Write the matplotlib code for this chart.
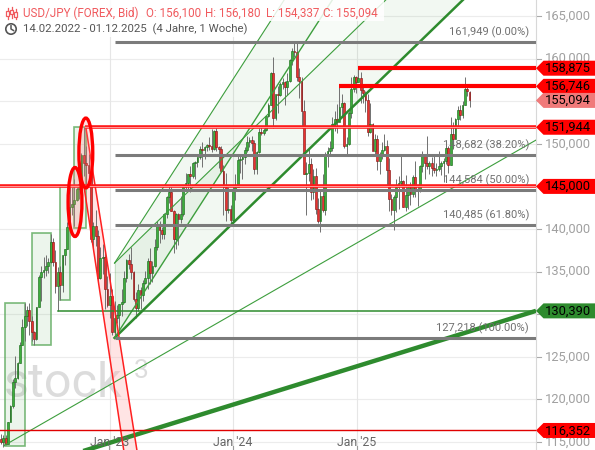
import matplotlib
matplotlib.use('Agg')
import matplotlib.pyplot as plt
import matplotlib.dates as mdates
import numpy as np
import pandas as pd
from matplotlib.patches import Rectangle, Ellipse, Polygon, Circle

plt.rcParams['font.family'] = ['Roboto', 'DejaVu Sans']

# ---------------- data: weekly USD/JPY candles ----------------
opens = [115.4,115.0,115.5,114.8,117.3,119.2,122.0,122.5,124.3,126.4,128.5,129.8,130.5,129.2,127.9,127.1,130.8,134.4,135.0,135.2,135.7,136.1,138.5,136.1,133.3,135.0,133.4,136.9,137.6,140.2,142.6,142.9,143.4,144.7,145.3,148.7,147.7,147.5,146.6,138.8,140.4,139.2,134.3,136.6,136.7,132.9,
         131.1,132.1,127.9,129.6,129.9,131.2,131.4,134.2,136.4,135.9,134.9,131.8,130.7,132.8,132.2,133.7,134.2,136.3,134.8,135.7,137.9,140.6,139.9,139.4,141.8,143.7,144.3,142.1,138.8,141.8,141.2,141.8,144.9,145.4,146.4,146.2,147.8,147.9,148.4,149.4,149.3,149.6,149.9,149.7,149.4,151.5,149.6,149.4,146.8,144.9,142.2,142.4,
         141.0,144.6,144.9,148.1,148.2,148.4,149.3,150.2,150.5,150.1,147.1,149.0,151.4,151.3,151.6,153.3,154.6,158.3,153.0,155.8,155.7,157.0,157.3,156.7,157.4,159.8,160.9,160.8,157.9,157.4,153.8,146.5,146.6,147.6,144.4,146.2,142.3,140.9,143.9,142.2,148.7,149.1,149.5,152.3,152.9,152.6,154.3,154.8,149.8,150.0,153.6,156.4,
         157.9,157.3,157.7,156.3,156.0,155.2,151.4,152.3,149.2,150.6,148.0,148.6,149.3,149.8,146.9,143.5,142.2,143.7,144.9,145.4,145.6,142.6,144.0,144.9,144.1,146.1,144.6,144.5,147.4,148.6,147.7,147.4,147.7,147.2,146.9,147.1,147.4,147.7,148.0,149.5,147.5,151.2,150.6,152.9,154.0,153.4,154.6,156.4,156.1]
highs = [115.9,115.8,115.8,117.4,119.4,122.4,125.1,124.4,126.7,129.4,131.3,131.0,131.3,129.8,128.0,130.9,134.6,135.6,136.7,137.0,136.6,139.4,138.9,137.5,135.5,135.6,137.0,137.7,140.8,145.0,144.9,145.9,144.9,145.4,148.9,151.94,149.7,148.8,147.0,140.8,142.2,139.9,137.9,138.2,137.5,134.5,
         134.8,132.9,131.6,131.1,131.2,132.9,135.1,136.5,137.1,137.9,135.1,132.6,133.6,133.2,134.0,135.1,136.6,137.8,136.3,138.8,140.9,140.9,140.2,141.9,143.9,145.1,144.9,142.2,141.9,141.9,143.9,145.0,146.6,146.4,147.4,147.9,148.0,148.5,149.7,150.2,149.8,150.0,150.8,151.7,151.6,151.9,149.8,149.7,147.5,146.6,144.9,142.8,
         145.0,146.4,148.8,148.7,148.6,149.6,150.9,150.8,150.9,150.5,149.2,151.9,152.0,151.8,153.3,154.8,158.4,160.2,155.9,156.8,157.2,157.7,157.4,158.3,159.9,161.3,161.95,161.8,158.9,157.9,155.2,147.9,149.4,148.3,147.0,147.2,143.6,144.5,146.5,149.0,149.6,150.3,153.2,153.9,154.7,156.75,155.9,154.9,150.8,153.9,157.9,158.1,
         158.0,158.88,158.4,156.7,156.2,155.9,154.8,152.4,151.2,151.0,149.0,150.2,151.2,150.5,148.3,144.1,144.0,145.9,146.2,148.65,145.8,146.3,145.1,145.5,146.3,148.0,145.0,147.5,149.2,148.8,150.9,148.0,148.5,148.8,147.8,149.1,148.0,148.3,149.9,149.8,153.2,152.6,153.0,154.4,154.5,155.0,157.9,156.9,156.18]
lows = [114.8,114.4,114.7,114.8,117.3,119.0,121.3,122.4,124.3,126.4,126.9,128.6,127.5,126.9,126.4,127.0,130.8,131.5,134.3,134.5,134.8,136.0,135.6,132.5,130.4,131.7,132.6,135.8,137.6,140.2,141.7,140.3,143.3,143.5,145.3,146.2,145.1,145.7,138.5,137.7,138.0,133.6,134.1,134.7,130.6,130.8,
        129.5,127.5,127.22,129.0,128.1,129.8,131.3,133.8,135.3,134.1,131.6,129.6,130.4,130.6,131.6,133.5,133.0,133.5,133.8,135.5,137.5,138.4,138.8,138.8,141.3,143.0,142.1,137.2,137.7,138.1,140.7,141.5,144.5,144.6,144.4,146.0,145.9,147.3,148.2,147.3,148.2,149.2,149.3,149.0,149.3,149.2,147.2,146.7,141.7,140.9,141.9,140.3,
        140.8,143.4,144.9,146.6,145.9,147.6,149.0,149.6,149.2,146.5,146.5,148.9,151.0,151.0,151.5,153.2,154.5,151.9,152.8,153.6,155.6,156.4,154.5,155.7,157.2,159.3,160.2,157.4,155.4,151.9,146.4,141.7,145.6,143.4,143.5,141.8,140.7,139.6,142.0,141.6,147.3,148.8,149.1,151.5,151.3,152.6,153.3,149.5,148.6,149.9,153.0,156.1,
        156.0,157.2,154.8,154.8,153.7,150.9,151.3,149.1,148.6,146.9,146.5,148.2,149.2,145.2,142.1,141.6,139.9,142.0,142.4,144.9,142.6,142.1,142.4,142.8,143.7,143.8,142.7,144.3,146.7,145.9,147.0,146.4,146.2,146.6,146.2,146.8,146.3,145.5,147.6,146.6,147.5,149.4,150.6,151.8,152.8,153.0,154.5,155.6,154.337]
closes = [115.0,115.5,114.8,117.3,119.2,122.0,122.5,124.3,126.4,128.5,129.8,130.5,129.2,127.9,127.1,130.8,134.4,135.0,135.2,135.7,136.1,138.5,136.1,133.3,135.0,133.4,136.9,137.6,140.2,142.6,142.9,143.4,144.7,145.3,148.7,147.7,147.5,146.6,138.8,140.4,139.2,134.3,136.6,136.7,132.9,131.1,
          132.1,127.9,129.6,129.9,131.2,131.4,134.2,136.4,135.9,134.9,131.8,130.7,132.8,132.2,133.7,134.2,136.3,134.8,135.7,137.9,140.6,139.9,139.4,141.8,143.7,144.3,142.1,138.8,141.8,141.2,141.8,144.9,145.4,146.4,146.2,147.8,147.9,148.4,149.4,149.3,149.6,149.9,149.7,149.4,151.5,149.6,149.4,146.8,144.9,142.2,142.4,141.0,
          144.6,144.9,148.1,148.2,148.4,149.3,150.2,150.5,150.1,147.1,149.0,151.4,151.3,151.6,153.3,154.6,158.3,153.0,155.8,155.7,157.0,157.3,156.7,157.4,159.8,160.9,160.8,157.9,157.4,153.8,146.5,146.6,147.6,144.4,146.2,142.3,140.9,143.9,142.2,148.7,149.1,149.5,152.3,152.9,152.6,154.3,154.8,149.8,150.0,153.6,156.4,157.9,
          157.3,157.7,156.3,156.0,155.2,151.4,152.3,149.2,150.6,148.0,148.6,149.3,149.8,146.9,143.5,142.2,143.7,144.9,145.4,145.6,142.6,144.0,144.9,144.1,146.1,144.6,144.5,147.4,148.6,147.7,147.4,147.7,147.2,146.9,147.1,147.4,147.7,148.0,149.5,147.5,151.2,150.6,152.9,154.0,153.4,154.6,156.4,156.2,155.094]
first_week = '2022-02-14'

# drawing objects
fib_levels = [161.949, 148.682, 144.584, 140.485, 127.218]
fib_pcts = ['0.00%', '38.20%', '50.00%', '61.80%', '100.00%']
fib_start = '2023-01-16'
red_levels = [158.875, 156.746, 151.944, 145.0, 116.352]
red_starts = ['2025-01-06', '2024-11-11', '2022-10-21', None, None]
tag_values = [158.875, 156.746, 155.094, 151.944, 145.0, 130.39, 116.352]
tag_colors = ['#ff0000', '#ff0000', '#f07a7a', '#ff0000', '#ff0000', '#2e8b2e', '#ff0000']
green_hline = ('2022-08-02', 130.39)
boxes = [('2022-02-25', '2022-04-26', 114.5, 131.3),
         ('2022-05-16', '2022-07-11', 126.4, 139.5),
         ('2022-08-08', '2022-09-06', 131.7, 145.0),
         ('2022-09-18', '2022-10-23', 140.1, 152.0)]
ellipses = [('2022-09-21', 143.17, 41, 8.1), ('2022-10-23', 148.92, 41, 8.2)]
red_channel = [(('2022-10-17', 145.16), ('2023-02-12', 114.06)),
               (('2022-10-23', 151.97), ('2023-03-23', 114.06))]
long_thin = (('2022-02-24', 114.6), ('2025-05-10', 141.29))
thick_trend = (('2022-10-25', 114.06), ('2026-06-15', 130.39))
chan_start, chan_low, chan_high = '2023-01-16', 127.22, 136.0
chanB_end = ('2025-11-11', 166.88)
chanA_end = ('2024-10-21', 166.88)
yticks = [115, 120, 125, 130, 135, 140, 145, 150, 155, 160, 165]
xtick_dates = ['2023-01-01', '2024-01-01', '2025-01-01']
xtick_labels = ["Jan '23", "Jan '24", "Jan '25"]

# ---------------- figure ----------------
W, H = 595, 450
fig = plt.figure(figsize=(W / 100, H / 100), dpi=100)
AXW = 536
ax = fig.add_axes([0, 0, AXW / W, 1])
DPX = 365.25 / 123.5
d = mdates.datestr2num
X0 = d('2023-01-01') - 109.5 * DPX
X1 = X0 + AXW * DPX
YB, YT = 114.06, 166.88
ax.set_xlim(X0, X1)
ax.set_ylim(YB, YT)
for s in ['top', 'left', 'bottom']:
    ax.spines[s].set_visible(False)
ax.spines['right'].set_color('#d8d8d8')
ax.set_xticks([])
ax.set_yticks([])
for v in yticks:
    ax.axhline(v, color='#ececec', lw=0.8, zorder=0)
for t in xtick_dates:
    ax.axvline(d(t), color='#e6e6e6', lw=0.8, zorder=0)

ov = fig.add_axes([0, 0, 1, 1])
ov.set_xlim(0, W)
ov.set_ylim(H, 0)
ov.axis('off')
ov.patch.set_alpha(0)
ov.set_zorder(5)

def vpx(v):
    return (YT - v) / (YT - YB) * H

# watermark
ax.text(4, 397, 'stock', transform=ov.transData, fontsize=35, color='#d4d4d4',
        alpha=0.8, zorder=0.5, va='baseline', ha='left', clip_on=False)
ax.text(134, 378, '3', transform=ov.transData, fontsize=19, color='#d4d4d4',
        alpha=0.8, zorder=0.5, va='baseline', ha='left', clip_on=False)

# boxes
for a, b, lo, hi in boxes:
    ax.add_patch(Rectangle((d(a), lo), d(b) - d(a), hi - lo, facecolor='#4a9e4a', alpha=0.1,
                           edgecolor='none', zorder=1))
    ax.add_patch(Rectangle((d(a), lo), d(b) - d(a), hi - lo, facecolor='none',
                           edgecolor='#5aa85a', lw=1.2, alpha=0.8, zorder=1.2))

# green channels
xs_ch = np.linspace(d(chan_start), X1, 200)
def lin(p_x, p_v, q_x, q_v, x):
    return p_v + (q_v - p_v) / (q_x - p_x) * (x - p_x)
sB = (chanB_end[1] - chan_low) / (d(chanB_end[0]) - d(chan_start))
sA = (chanA_end[1] - chan_low) / (d(chanA_end[0]) - d(chan_start))
x_rel = xs_ch - d(chan_start)
Bl, Bu = chan_low + sB * x_rel, chan_high + sB * x_rel
Al, Au = chan_low + sA * x_rel, chan_high + sA * x_rel
ax.fill_between(xs_ch, Bl, Bu, color='#4a9e4a', alpha=0.07, lw=0, zorder=1)
ax.fill_between(xs_ch, Al, Au, color='#4a9e4a', alpha=0.07, lw=0, zorder=1)
ax.fill_between(xs_ch, Bu, Al, where=Al > Bu, color='#4a9e4a', alpha=0.04, lw=0, zorder=1)
ax.plot(xs_ch, Bl, color='#2e8b2e', lw=1.8, zorder=4)
ax.plot(xs_ch, Bu, color='#3d9e3d', lw=0.8, zorder=4)
ax.plot(xs_ch, Al, color='#3d9e3d', lw=1.0, zorder=4)
ax.plot(xs_ch, Au, color='#3d9e3d', lw=0.8, zorder=4)
ax.plot([d(chan_start)] * 2, [chan_low, chan_high], color='#4a9e4a', lw=0.5, alpha=0.3, zorder=1)

# long thin line and thick trend line
(p1, p2) = long_thin
xx = np.array([d(p1[0]), X1])
ax.plot(xx, lin(d(p1[0]), p1[1], d(p2[0]), p2[1], xx), color='#3d9e3d', lw=0.8, zorder=4)
(p1, p2) = thick_trend
xx = np.array([d(p1[0]) - 30, X1])
ax.plot(xx, lin(d(p1[0]), p1[1], d(p2[0]), p2[1], xx), color='#2e8b2e', lw=3.2, zorder=4,
        solid_capstyle='butt')
ax.plot([d(green_hline[0]), X1], [green_hline[1]] * 2, color='#2e8b2e', lw=1.1, zorder=4)

# red descending channel
(a1, a2), (b1, b2) = red_channel
ya = np.array([a1[1], 112.0]); yb = np.array([b1[1], 112.0])
xa = np.array([d(a1[0]), lin(a1[1], d(a1[0]), a2[1], d(a2[0]), 112.0)])
xb = np.array([d(b1[0]), lin(b1[1], d(b1[0]), b2[1], d(b2[0]), 112.0)])
ax.add_patch(Polygon([(xa[0], ya[0]), (xb[0], yb[0]), (xb[1], yb[1]), (xa[1], ya[1])],
                     closed=True, facecolor='#ffb3b3', alpha=0.35, edgecolor='none', zorder=1))
ax.plot(xa, ya, color='#ff2020', lw=1.1, zorder=4)
ax.plot(xb, yb, color='#ff2020', lw=1.1, zorder=4)

# candles
dates = pd.date_range(first_week, periods=len(closes), freq='7D')
xs = mdates.date2num(dates)
o = np.array(opens); c = np.array(closes)
h = np.maximum(np.array(highs), np.maximum(o, c))
l = np.minimum(np.array(lows), np.minimum(o, c))
up = c >= o
ax.vlines(xs, l, h, color='#707070', lw=0.7, zorder=2.5)
ax.bar(xs, np.maximum(np.abs(c - o), 0.1), bottom=np.minimum(o, c), width=5.2,
       color=np.where(up, '#3cae3c', '#e8322f'), edgecolor=np.where(up, '#1f6f1f', '#8a1a1a'),
       linewidth=0.45, zorder=3)

# fib lines
for v, p in zip(fib_levels, fib_pcts):
    ax.plot([d(fib_start), X1], [v, v], color='#7b7b7b', lw=2.2, zorder=4, solid_capstyle='butt')
    ov.text(529, vpx(v) - 10, f"{v:.3f}".replace('.', ',') + f" ({p})", fontsize=8,
            color='#707070', ha='right', va='center', zorder=6)

# red lines
for v, s in zip(red_levels, red_starts):
    xa0 = d(s) if s else X0
    if v == 116.352:
        ax.plot([xa0, X1], [v, v], color='#e00000', lw=1.0, zorder=4)
    elif v in (158.875, 156.746):
        ax.plot([xa0, X1], [v, v], color='#ff0000', lw=3.0, zorder=4, solid_capstyle='butt')
    else:
        ax.plot([xa0, X1], [v, v], color='#ff1a1a', lw=2.6, zorder=4, solid_capstyle='butt')
        ax.plot([xa0, X1], [v, v], color='#ff9a9a', lw=0.7, zorder=4.1)

# ellipses
for dt, cy, wd, ht in ellipses:
    ax.add_patch(Ellipse((d(dt), cy), wd, ht, facecolor='#ff8080', alpha=0.25, edgecolor='none', zorder=4.5))
    ax.add_patch(Ellipse((d(dt), cy), wd, ht, facecolor='none', edgecolor='#ff0000', lw=2.4, zorder=4.6))

# right axis labels (labels fully hidden behind a price tag are left out)
tag_px = [vpx(t) for t in tag_values]
for v in yticks:
    y = vpx(v)
    ov.plot([537, 541], [y, y], color='#aaaaaa', lw=0.8)
    if min(abs(y - ty) for ty in tag_px) < 9:
        continue
    ov.text(545, y, f"{v},000", fontsize=9.3, color='#a0a0a0', ha='left', va='center')
for v, col in zip(tag_values, tag_colors):
    y = vpx(v)
    ov.add_patch(Polygon([(536, y), (543.5, y - 7.5), (595, y - 7.5), (595, y + 7.5), (543.5, y + 7.5)],
                         closed=True, facecolor=col, edgecolor='none', zorder=6))
    ov.text(567.5, y + 0.3, f"{v:.3f}".replace('.', ','), fontsize=9.3, color='black',
            ha='center', va='center', zorder=7)

# x labels
for t, lab in zip(xtick_dates, xtick_labels):
    xp = (d(t) - X0) / DPX
    ov.text(xp, 442, lab, fontsize=8.8, color='#666666', ha='center', va='center')
    ov.plot([xp, xp], [446, 450], color='#999999', lw=0.8)

# header
ov.add_patch(Rectangle((0, 0), 384, 21, facecolor='white', alpha=0.85, edgecolor='none', zorder=5))
ov.add_patch(Rectangle((0, 21), 250, 16, facecolor='white', alpha=0.85, edgecolor='none', zorder=5))
hdr_col = '#f05a5e'
for xt, s in [(23, 'USD/JPY (FOREX, Bid)'), (146, 'O: 156,100'), (205, 'H: 156,180'),
              (266, 'L: 154,337'), (323, 'C: 155,094')]:
    ov.text(xt, 13, s, fontsize=8.4, color=hdr_col, ha='left', va='center', zorder=6)
ov.text(23, 29, '14.02.2022 - 01.12.2025  (4 Jahre, 1 Woche)', fontsize=8.2, color='#555555',
        ha='left', va='center', zorder=6)
# candle icon
for cx, top, bot, b1_, b2_ in [(7.5, 8, 19, 11, 16), (11.5, 7, 18, 10, 14), (15.5, 9, 19, 12, 17)]:
    ov.plot([cx, cx], [top, bot], color=hdr_col, lw=0.9, zorder=6)
    ov.add_patch(Rectangle((cx - 1.3, b1_), 2.6, b2_ - b1_, facecolor='white', edgecolor=hdr_col, lw=0.9, zorder=6.5))
# clock icon
ov.add_patch(Circle((11, 29), 5.2, facecolor='none', edgecolor='#555555', lw=1.2, zorder=6))
ov.plot([11, 11, 13.5], [25.8, 29, 30.5], color='#555555', lw=1.1, zorder=6)

fig.savefig('out.png', dpi=100)
